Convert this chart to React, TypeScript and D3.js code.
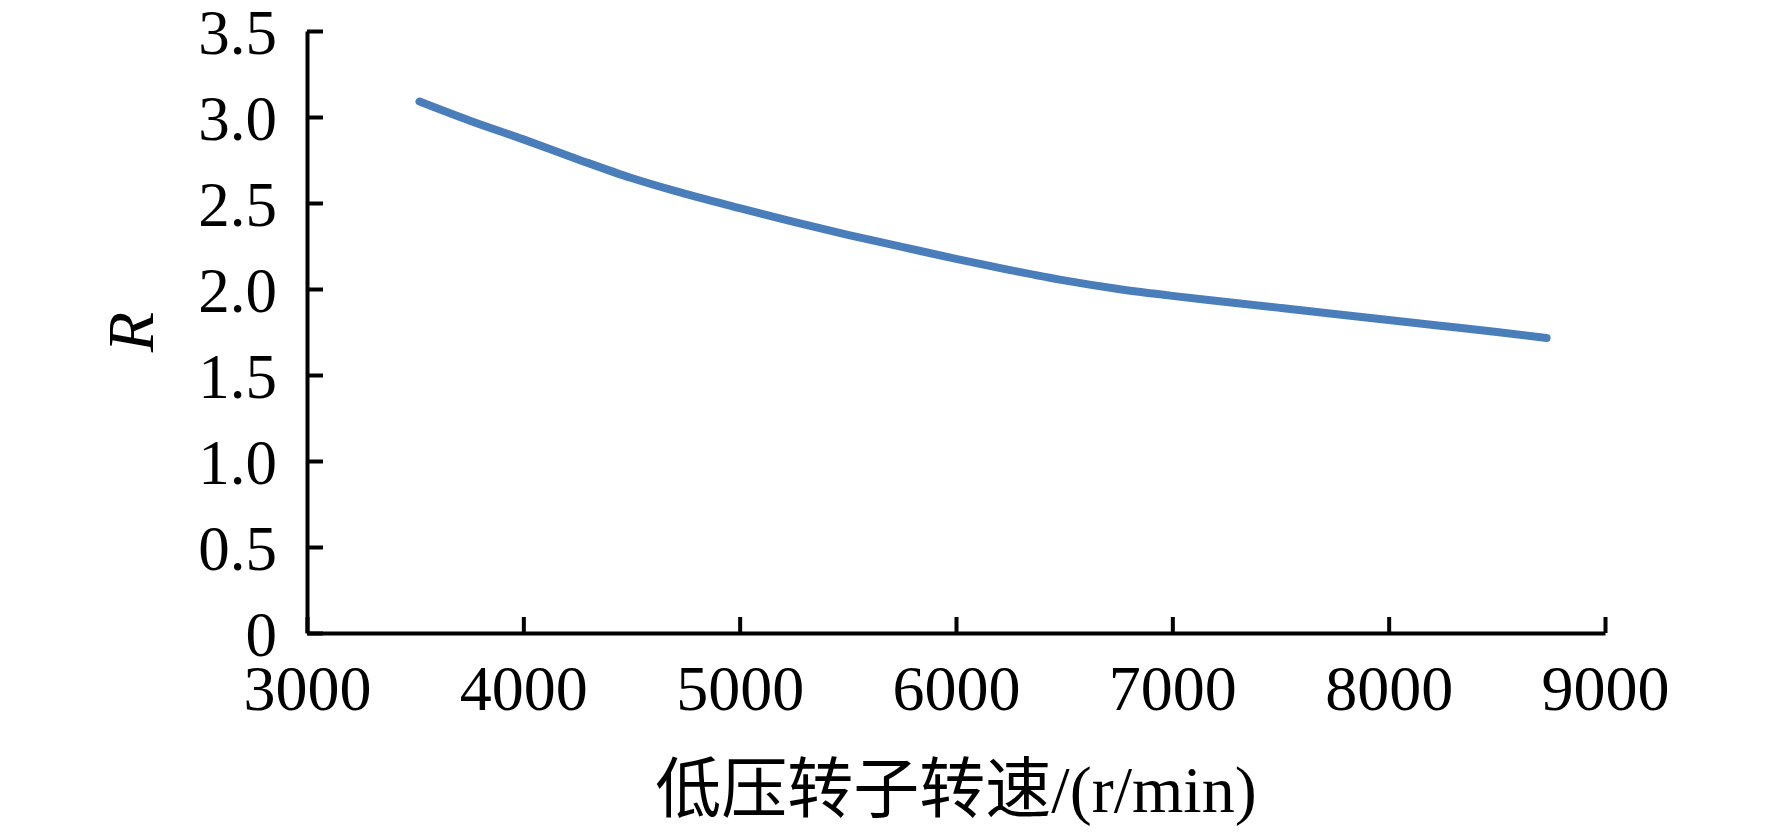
import * as d3 from "d3";
import React, { useEffect, useRef } from "react";

// low-pressure rotor speed (r/min) and ratio R
const speeds = [
  3520, 3750, 4000, 4250, 4500, 4700, 5000, 5250, 5500, 5750, 6000, 6250,
  6500, 6750, 7000, 7250, 7500, 7750, 8000, 8250, 8500, 8730,
];
const ratios = [
  3.09, 2.98, 2.87, 2.755, 2.645, 2.57, 2.47, 2.39, 2.315, 2.245, 2.175, 2.11,
  2.05, 2.0, 1.96, 1.925, 1.89, 1.855, 1.82, 1.785, 1.75, 1.715,
];
const xTicks = [3000, 4000, 5000, 6000, 7000, 8000, 9000];
const yTicks = [0, 0.5, 1.0, 1.5, 2.0, 2.5, 3.0, 3.5];
const xTitle = "低压转子转速/(r/min)";
const yTitle = "R";

const W = 1772;
const H = 833;
const FONT = "'Liberation Serif', 'Times New Roman', 'Noto Sans CJK SC', serif";

const App: React.FC = () => {
  const ref = useRef<SVGSVGElement>(null);

  useEffect(() => {
    if (!ref.current) return;
    const svg = d3.select(ref.current);
    svg.selectAll("*").remove();

    const left = 307;
    const right = 1605;
    const top = 31;
    const bottom = 633;

    const x = d3.scaleLinear().domain([3000, 9000]).range([left, right]);
    const y = d3.scaleLinear().domain([0, 3.5]).range([bottom, top]);

    // axes
    const xAxis = d3
      .axisBottom(x)
      .tickValues(xTicks)
      .tickSizeInner(-16)
      .tickSizeOuter(0)
      .tickFormat((d) => String(d));
    const gx = svg
      .append("g")
      .attr("transform", `translate(0,${bottom})`)
      .call(xAxis);
    gx.select(".domain").attr("stroke", "#000").attr("stroke-width", 4);
    gx.selectAll(".tick line").attr("stroke", "#000").attr("stroke-width", 4);
    gx.selectAll(".tick text")
      .attr("y", 77)
      .attr("dy", null)
      .attr("font-family", FONT)
      .attr("font-size", 64)
      .attr("fill", "#000");

    const yAxis = d3
      .axisLeft(y)
      .tickValues(yTicks)
      .tickSizeInner(-16)
      .tickSizeOuter(0)
      .tickFormat((d) => (d === 0 ? "0" : d3.format(".1f")(d as number)));
    const gy = svg
      .append("g")
      .attr("transform", `translate(${left},0)`)
      .call(yAxis);
    gy.select(".domain").attr("stroke", "#000").attr("stroke-width", 4);
    gy.selectAll(".tick line").attr("stroke", "#000").attr("stroke-width", 4);
    gy.selectAll(".tick text")
      .attr("x", -30)
      .attr("dy", "0.35em")
      .attr("font-family", FONT)
      .attr("font-size", 63)
      .attr("fill", "#000");

    // the curve
    const pts = speeds.map((s, i) => [s, ratios[i]] as [number, number]);
    const line = d3
      .line<[number, number]>()
      .x((d) => x(d[0]))
      .y((d) => y(d[1]))
      .curve(d3.curveMonotoneX);
    svg
      .append("path")
      .datum(pts)
      .attr("d", line)
      .attr("fill", "none")
      .attr("stroke", "#4a7ebb")
      .attr("stroke-width", 8)
      .attr("stroke-linecap", "round");

    // titles
    svg
      .append("text")
      .attr("x", (left + right) / 2)
      .attr("y", 812)
      .attr("text-anchor", "middle")
      .attr("font-family", FONT)
      .attr("font-size", 66)
      .attr("fill", "#000")
      .text(xTitle);

    svg
      .append("text")
      .attr("transform", `translate(130,${(top + bottom) / 2}) rotate(-90)`)
      .attr("text-anchor", "middle")
      .attr("dy", "0.35em")
      .attr("font-family", FONT)
      .attr("font-style", "italic")
      .attr("font-size", 66)
      .attr("fill", "#000")
      .text(yTitle);
  }, []);

  return (
    <svg
      ref={ref}
      width={W}
      height={H}
      style={{ position: "absolute", left: 0, top: 0, background: "#fff" }}
    ></svg>
  );
};

export default App;
